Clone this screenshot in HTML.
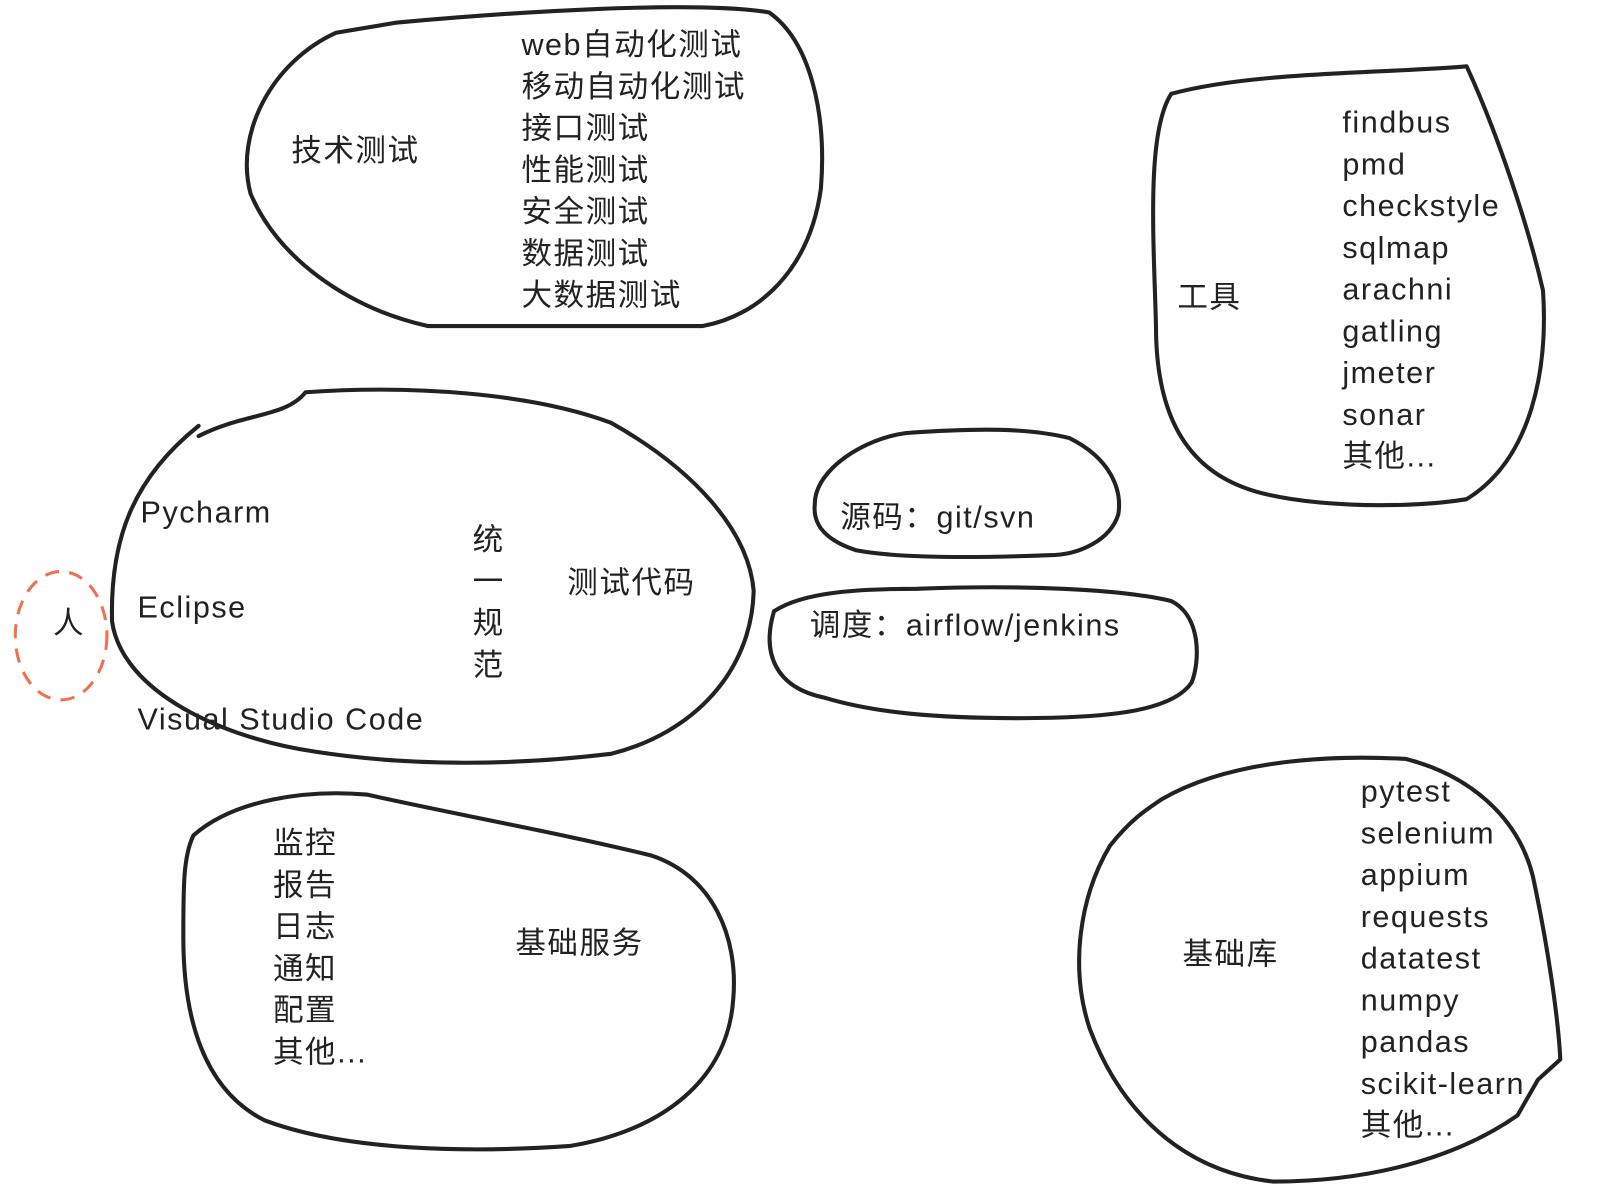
<!DOCTYPE html>
<html><head><meta charset="utf-8"><style>
html,body{margin:0;padding:0;background:#fff;}
svg{display:block}
text{font-family:"Liberation Sans","Noto Sans CJK SC",sans-serif;font-size:30px;letter-spacing:1.5px;fill:#222;}
</style></head><body>
<svg width="1598" height="1198" viewBox="0 0 1569 1176" xmlns="http://www.w3.org/2000/svg">
<g fill="none" stroke="#222" stroke-width="4" stroke-linecap="round" stroke-linejoin="round">
<path d="M390,22 C500,12 680,0 755,12 C795,40 812,110 806,185 C795,265 745,310 690,320 L420,320 C340,302 272,252 246,190 C230,130 268,60 330,32 L390,22"/>
<path d="M1150,92 C1230,70 1360,72 1440,65 C1470,130 1500,220 1515,285 C1520,360 1505,450 1440,490 C1380,500 1270,498 1220,478 C1160,455 1135,400 1135,320 C1133,240 1125,130 1150,92"/>
<path d="M195,428 C240,405 280,410 300,385 C400,378 520,385 600,415 C680,460 735,520 740,580 C738,660 680,720 600,740 C500,752 400,752 310,738 C220,725 120,680 110,610 C108,530 130,470 195,418"/>
<path d="M800,495 C800,460 850,430 890,425 C960,420 1010,420 1050,430 C1090,450 1102,480 1098,505 C1090,530 1060,545 1030,545 C950,548 880,548 840,540 C810,530 798,515 800,495"/>
<path d="M760,600 C790,580 850,578 900,578 C1000,574 1100,578 1150,590 C1180,605 1178,650 1170,670 C1150,700 1080,705 1000,705 C920,705 860,700 810,685 C760,675 748,640 760,600"/>
<path d="M190,820 C230,785 300,775 360,780 C450,800 560,820 640,840 C700,860 725,920 720,980 C715,1060 650,1110 560,1125 C460,1132 340,1130 260,1100 C200,1070 180,1000 180,920 C180,870 180,840 190,820"/>
<path d="M1140,785 C1200,750 1290,740 1380,745 C1440,760 1490,800 1505,860 C1520,930 1530,1000 1532,1040 L1510,1060 L1490,1095 C1440,1130 1360,1160 1250,1160 C1160,1150 1100,1090 1070,1010 C1050,950 1060,880 1090,830 C1110,805 1125,795 1140,785"/>
</g>
<ellipse cx="60" cy="624" rx="45" ry="63" fill="none" stroke="#f07050" stroke-width="3" stroke-dasharray="14,10"/>
<text x="512" y="54">web自动化测试</text>
<text x="512" y="95">移动自动化测试</text>
<text x="512" y="136">接口测试</text>
<text x="512" y="177">性能测试</text>
<text x="512" y="218">安全测试</text>
<text x="512" y="259">数据测试</text>
<text x="512" y="300">大数据测试</text>
<text x="286" y="158">技术测试</text>
<text x="1318" y="130">findbus</text>
<text x="1318" y="171">pmd</text>
<text x="1318" y="212">checkstyle</text>
<text x="1318" y="253">sqlmap</text>
<text x="1318" y="294">arachni</text>
<text x="1318" y="335">gatling</text>
<text x="1318" y="376">jmeter</text>
<text x="1318" y="417">sonar</text>
<text x="1318" y="458">其他...</text>
<text x="1156" y="302">工具</text>
<text x="138" y="513">Pycharm</text>
<text x="135" y="606">Eclipse</text>
<text x="135" y="716">Visual Studio Code</text>
<text x="52" y="622">人</text>
<text x="464" y="540">统</text>
<text x="464" y="581">一</text>
<text x="464" y="622">规</text>
<text x="464" y="663">范</text>
<text x="557" y="582">测试代码</text>
<text x="825" y="518">源码：git/svn</text>
<text x="795" y="624">调度：airflow/jenkins</text>
<text x="268" y="838">监控</text>
<text x="268" y="879">报告</text>
<text x="268" y="920">日志</text>
<text x="268" y="961">通知</text>
<text x="268" y="1002">配置</text>
<text x="268" y="1043">其他...</text>
<text x="506" y="936">基础服务</text>
<text x="1336" y="787">pytest</text>
<text x="1336" y="828">selenium</text>
<text x="1336" y="869">appium</text>
<text x="1336" y="910">requests</text>
<text x="1336" y="951">datatest</text>
<text x="1336" y="992">numpy</text>
<text x="1336" y="1033">pandas</text>
<text x="1336" y="1074">scikit-learn</text>
<text x="1336" y="1115">其他...</text>
<text x="1161" y="947">基础库</text>
</svg>
</body></html>
